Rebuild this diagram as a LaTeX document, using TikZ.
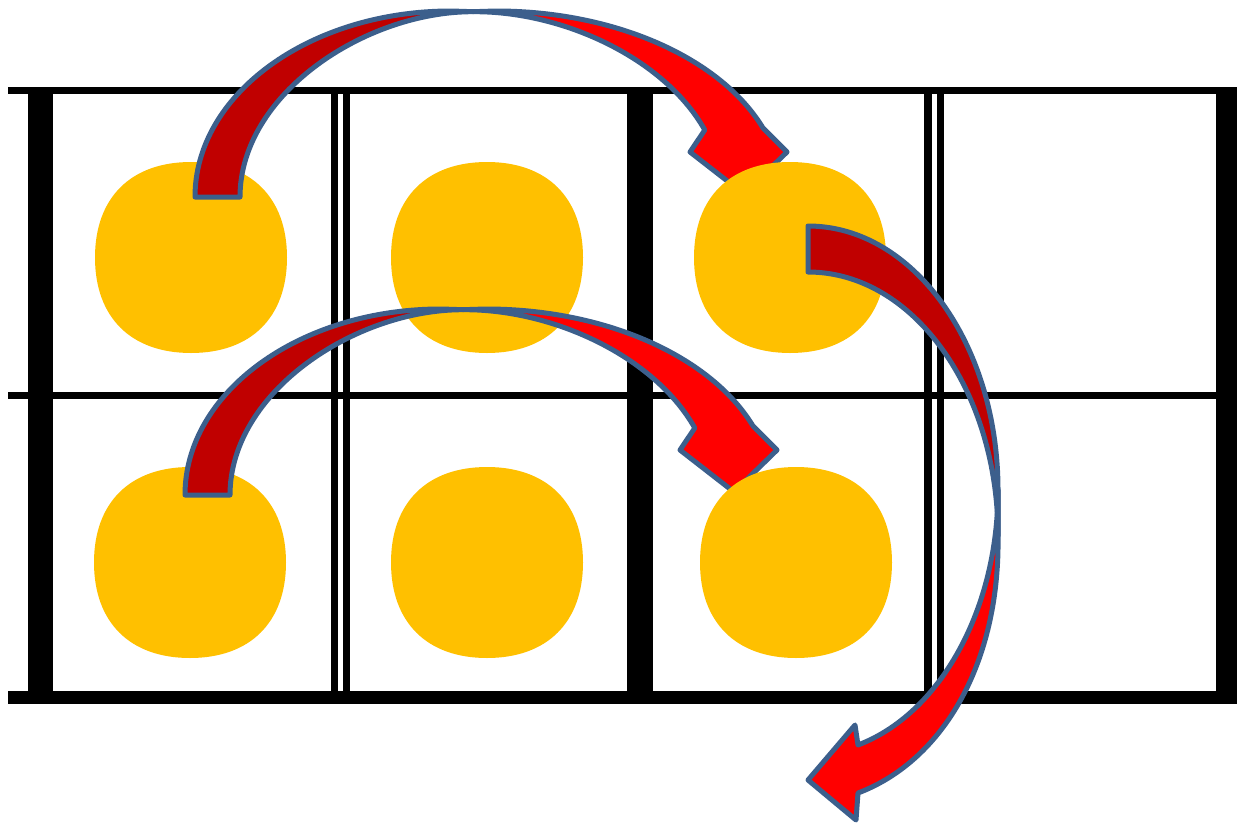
\documentclass[tikz,border=0pt]{standalone}
\definecolor{gold}{RGB}{255,192,0}
\definecolor{darkred}{RGB}{192,0,0}
\definecolor{brightred}{RGB}{255,0,0}
\definecolor{edgeblue}{RGB}{60,95,140}
\begin{document}
\begin{tikzpicture}[x=1pt,y=-1pt,
  gridline/.style={line width=#1, black, line cap=butt},
  backpart/.style={fill=darkred, draw=edgeblue, line width=5, line join=round},
  frontpart/.style={fill=brightred, draw=edgeblue, line width=5, line join=round},
  squircle/.pic={\fill[gold] (96,0) .. controls (96,60) and (60,95.5) .. (0,95.5)
      .. controls (-60,95.5) and (-96,60) .. (-96,0)
      .. controls (-96,-60) and (-60,-95.5) .. (0,-95.5)
      .. controls (60,-95.5) and (96,-60) .. (96,0) -- cycle;},
  archarrow/.pic={
    \draw[backpart] (195,197) .. controls (195,94.3) and (309.6,11) .. (451,11)
       -- (473,11.7) .. controls (365,11.5) and (240,94.3) .. (240,197) -- cycle;
    \draw[frontpart] (473,11.7) .. controls (563,11) and (664.4,58.4) .. (704.8,130)
       -- (690,152) -- (744,194) -- (787,152) -- (763,128)
       .. controls (720,57.3) and (614,11) .. (496,11) -- cycle;}
]
\useasboundingbox (0,0) rectangle (1237,822);
% grid
\draw[gridline=7] (8,90.5) -- (1237,90.5);
\draw[gridline=7] (8,395.5) -- (1237,395.5);
\draw[gridline=13] (8,697.5) -- (1237,697.5);
\draw[gridline=25] (40.5,87) -- (40.5,704);
\draw[gridline=7] (334.5,90.5) -- (334.5,697.5);
\draw[gridline=7] (346.5,90.5) -- (346.5,697.5);
\draw[gridline=26] (640,90.5) -- (640,697.5);
\draw[gridline=7.5] (928,90.5) -- (928,697.5);
\draw[gridline=7.5] (940.5,90.5) -- (940.5,697.5);
\draw[gridline=21] (1226.5,87) -- (1226.5,704);
% circles below arrows
\pic (c1) at (191,257.5) {squircle};
\pic (c2) at (487,257.5) {squircle};
\pic (c4) at (190,562.5) {squircle};
\pic (c5) at (487,562.5) {squircle};
% arrows 1 and 2
\pic (a1) at (0,0) {archarrow};
\pic (a2) at (-10,298) {archarrow};
% circles above arrow heads
\pic (c3) at (790,257.5) {squircle};
\pic (c6) at (796,562.5) {squircle};
% arrow 3
\draw[backpart] (808,226) .. controls (912.9,226) and (998,344.2) .. (998,490)
   -- (998,536) .. controls (998,390.2) and (912.9,272) .. (808,272) -- cycle;
\draw[frontpart] (998,490) .. controls (998,609) and (940.6,713.6) .. (858,745)
   -- (855,725) -- (808,780) -- (856,820) -- (858,793)
   .. controls (945,760) and (1000,660) .. (998,536) -- cycle;
\end{tikzpicture}
\end{document}
